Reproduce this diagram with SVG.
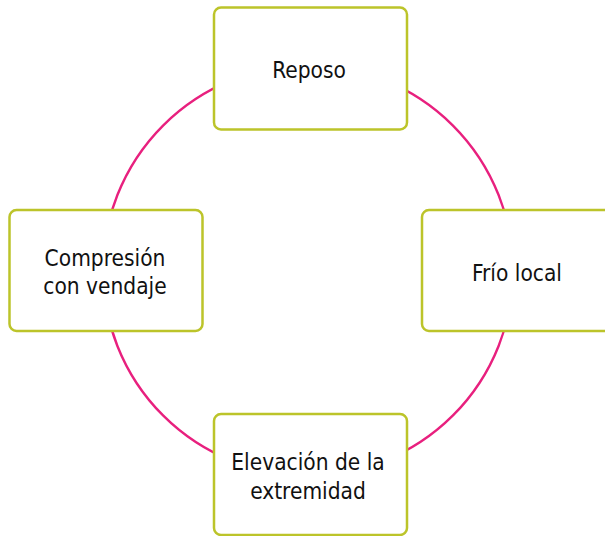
<svg xmlns="http://www.w3.org/2000/svg" width="605" height="536" viewBox="0 0 605 536">
<style>
.box{fill:#ffffff;stroke:#bcc42a;stroke-width:2.5}
.t{font-family:"DejaVu Sans Condensed","DejaVu Sans",sans-serif;font-stretch:condensed;font-size:22.5px;fill:#111111;text-anchor:middle}
.c{fill:none;stroke:#e8207e;stroke-width:2.4}
</style>
<rect width="605" height="536" fill="#ffffff"/>
<g id="connectors">
<circle class="c" cx="308" cy="270.5" r="205"/>
</g>
<g id="reposo">
<rect class="box" x="214" y="7.5" width="193" height="122" rx="7"/>
<text class="t" x="309" y="78">Reposo</text>
</g>
<g id="frio">
<rect class="box" x="422" y="210" width="193" height="121" rx="7"/>
<text class="t" x="517" y="281">Frío local</text>
</g>
<g id="elevacion">
<rect class="box" x="214" y="414" width="193" height="121" rx="7"/>
<text class="t" x="308" y="470">Elevación de la</text>
<text class="t" x="308" y="499">extremidad</text>
</g>
<g id="compresion">
<rect class="box" x="9.5" y="210" width="193" height="121" rx="7"/>
<text class="t" x="105" y="266">Compresión</text>
<text class="t" x="105" y="294">con vendaje</text>
</g>
</svg>
